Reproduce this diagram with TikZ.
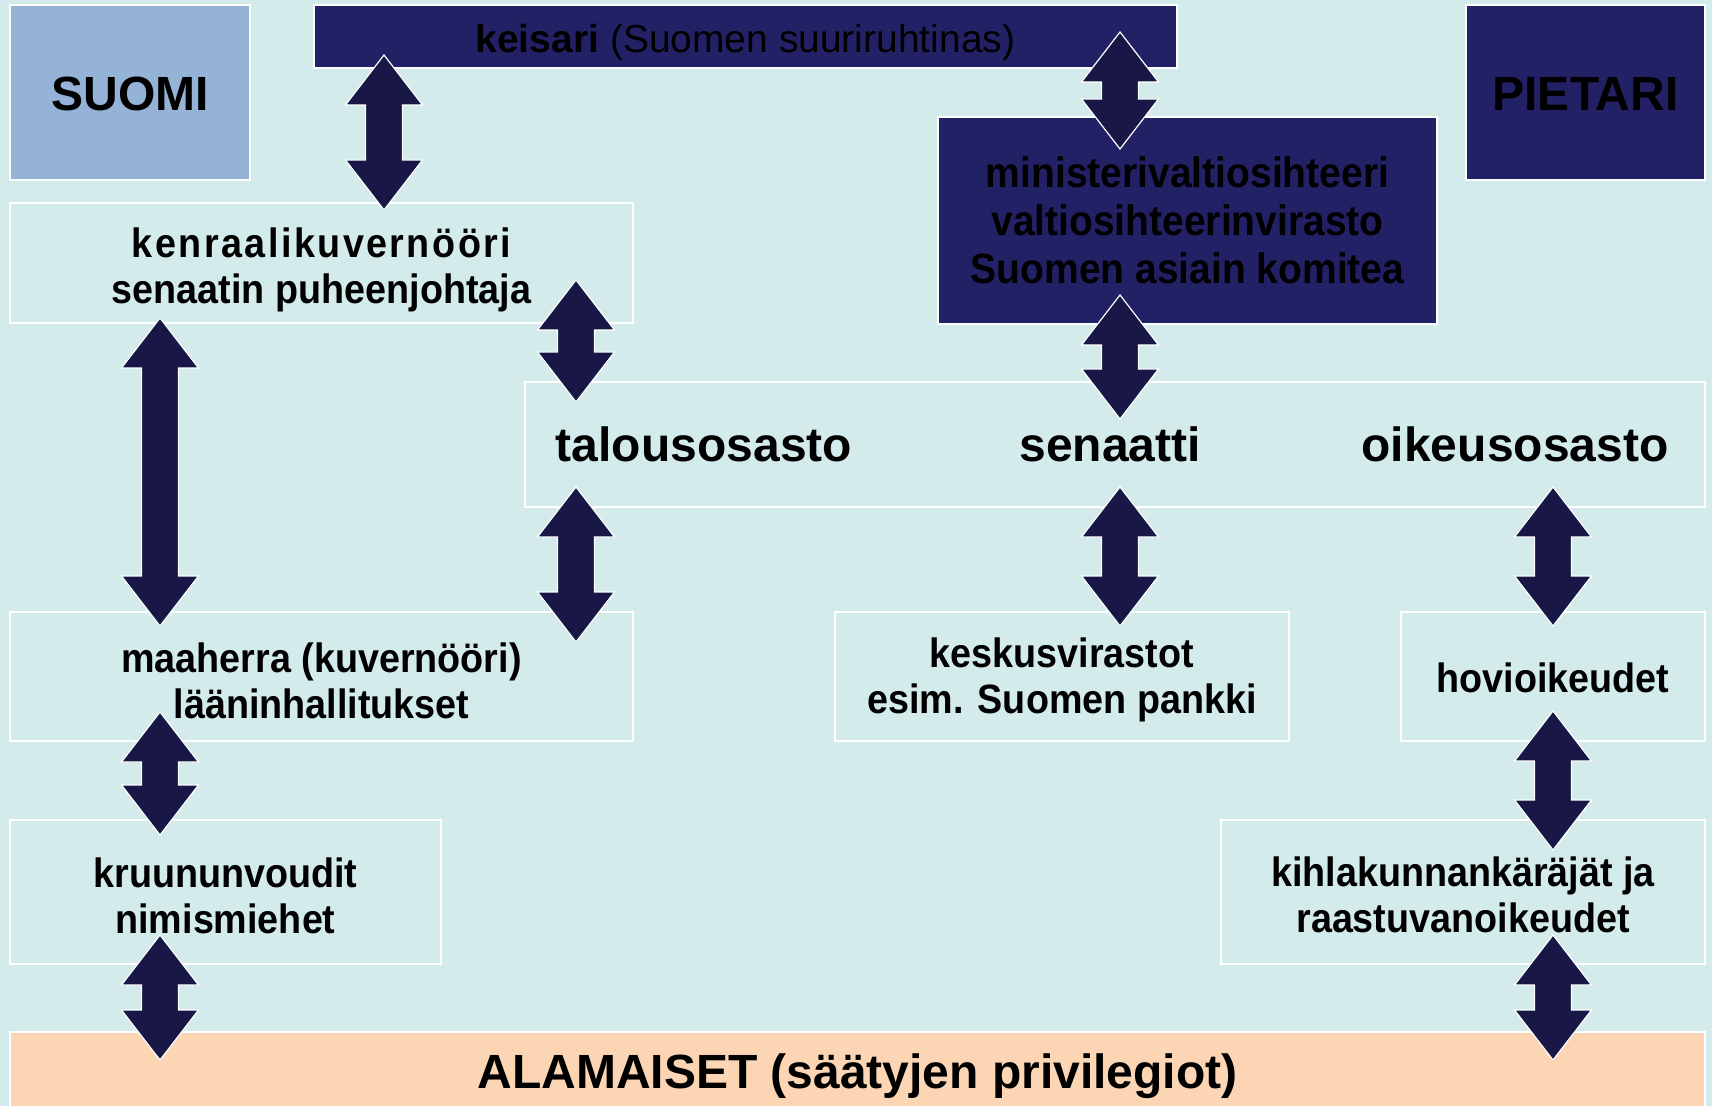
\documentclass[tikz,border=0pt]{standalone}
\usepackage{fontspec}
\setmainfont{Liberation Sans}
\newfontfamily\narrowsans[FakeStretch=0.92]{Liberation Sans}
\usetikzlibrary{calc}

\definecolor{bgcyan}{RGB}{212,235,236}
\definecolor{suomiblue}{RGB}{149,179,215}
\definecolor{pietarinavy}{RGB}{35,33,102}
\definecolor{arrownavy}{RGB}{25,23,70}
\definecolor{alamaispeach}{RGB}{252,213,180}

\newcommand{\bigtext}{\fontsize{24}{28}\selectfont\bfseries}
\newcommand{\boxtext}{\fontsize{20.5}{23}\selectfont\narrowsans\bfseries}

\tikzset{
  box/.style={draw=white, line width=0.8pt, fill=bgcyan, inner sep=0pt},
  dblarrow/.style={fill=arrownavy, draw=white, line width=0.6pt,
    to path={let \p1=(\tikztostart), \p2=(\tikztotarget) in
      (\p1) -- (\x1+19.25pt,\y1-25pt) -- (\x1+9.25pt,\y1-25pt)
      -- (\x1+9.25pt,\y2+25pt) -- (\x1+19.25pt,\y2+25pt) -- (\p2)
      -- (\x1-19.25pt,\y2+25pt) -- (\x1-9.25pt,\y2+25pt)
      -- (\x1-9.25pt,\y1-25pt) -- (\x1-19.25pt,\y1-25pt) -- cycle}}
}

\begin{document}
\begin{tikzpicture}[x=0.5pt,y=-0.5pt]
        \clip (0,0) rectangle (1712,1106);
        \fill[bgcyan] (0,0) rectangle (1712,1106);

        % boxes
        \begin{scope}[every node/.style={box}]
          \node[fill=suomiblue, minimum width=120pt, minimum height=87.5pt] (suomi) at (130,92.5) {};
          \node[fill=pietarinavy, minimum width=119.5pt, minimum height=87.5pt] (pietari) at (1585.5,92.5) {};
          \node[fill=pietarinavy, minimum width=431.5pt, minimum height=31.5pt] (keisari) at (745.5,36.5) {};
          \node[fill=pietarinavy, minimum width=249.5pt, minimum height=103.5pt] (ministeri) at (1187.5,220.5) {};
          \node[minimum width=311.5pt, minimum height=60pt] (kenraali) at (321.5,263) {};
          \node[minimum width=590pt, minimum height=62.5pt] (senaatti) at (1115,444.5) {};
          \node[minimum width=311.5pt, minimum height=64.5pt] (maaherra) at (321.5,676.5) {};
          \node[minimum width=227pt, minimum height=64.5pt] (keskus) at (1062,676.5) {};
          \node[minimum width=152pt, minimum height=64.5pt] (hovi) at (1553,676.5) {};
          \node[minimum width=215.5pt, minimum height=72pt] (kruunu) at (225.5,892) {};
          \node[minimum width=242pt, minimum height=72pt] (kihla) at (1463,892) {};
          \node[fill=alamaispeach, minimum width=847.5pt, minimum height=40pt] (alamaiset) at (857.5,1072) {};
        \end{scope}

        % texts
        \begin{scope}[every node/.style={font=\bigtext, inner sep=0pt, align=center}]
          \node (suomi-t) at (130,93.5) {SUOMI};
          \node (pietari-t) at (1585.5,93.5) {PIETARI};
          \node (talous) at (704,444) {talousosasto};
          \node (sen) at (1110,444) {senaatti};
          \node (oikeus) at (1515,444) {oikeusosasto};
          \node (alamaiset-t) at (857.5,1076) {ALAMAISET (säätyjen privilegiot)};
        \end{scope}

        \begin{scope}[every node/.style={font=\boxtext, inner sep=0pt, align=center}]
          \node[font=\fontsize{19.5}{23}\selectfont] (keisari-t) at (745.5,42) {\textbf{keisari} (Suomen suuriruhtinas)};
          \node[font=\fontsize{21.2}{24}\selectfont\narrowsans\bfseries] (ministeri-t) at (1187.5,220.5) {ministerivaltiosihteeri\\valtiosihteerinvirasto\\Suomen asiain komitea};
          \node (kenraali-t) at (321.5,270) {{\addfontfeature{LetterSpace=6}kenraalikuvernööri}\\senaatin puheenjohtaja};
          \node (maaherra-t) at (321.5,680.5) {maaherra (kuvernööri)\\lääninhallitukset};
          \node (keskus-t) at (1062,680) {keskusvirastot\\esim. Suomen pankki};
          \node (hovi-t) at (1553,677.5) {hovioikeudet};
          \node (kruunu-t) at (225.5,895.5) {kruununvoudit\\nimismiehet};
          \node (kihla-t) at (1463,895) {kihlakunnankäräjät ja\\raastuvanoikeudet};
        \end{scope}

        % arrow ends
        \coordinate (t1)  at (384,55);   \coordinate (b1)  at (384,210);
        \coordinate (t2)  at (1120,32);  \coordinate (b2)  at (1120,149);
        \coordinate (t3)  at (576,280);  \coordinate (b3)  at (576,402);
        \coordinate (t4)  at (160,318);  \coordinate (b4)  at (160,626);
        \coordinate (t5)  at (576,487);  \coordinate (b5)  at (576,642);
        \coordinate (t6)  at (1120,295); \coordinate (b6)  at (1120,419);
        \coordinate (t7)  at (1120,487); \coordinate (b7)  at (1120,626);
        \coordinate (t8)  at (1553,487); \coordinate (b8)  at (1553,626);
        \coordinate (t9)  at (1553,711); \coordinate (b9)  at (1553,850);
        \coordinate (t10) at (1553,935); \coordinate (b10) at (1553,1060);
        \coordinate (t11) at (160,712);  \coordinate (b11) at (160,835);
        \coordinate (t12) at (160,935);  \coordinate (b12) at (160,1060);

        \begin{scope}[every path/.style={dblarrow}]
          \path (t1)  to (b1);
          \path (t2)  to (b2);
          \path (t3)  to (b3);
          \path (t4)  to (b4);
          \path (t5)  to (b5);
          \path (t6)  to (b6);
          \path (t7)  to (b7);
          \path (t8)  to (b8);
          \path (t9)  to (b9);
          \path (t10) to (b10);
          \path (t11) to (b11);
          \path (t12) to (b12);
        \end{scope}

      \end{tikzpicture}
\end{document}
